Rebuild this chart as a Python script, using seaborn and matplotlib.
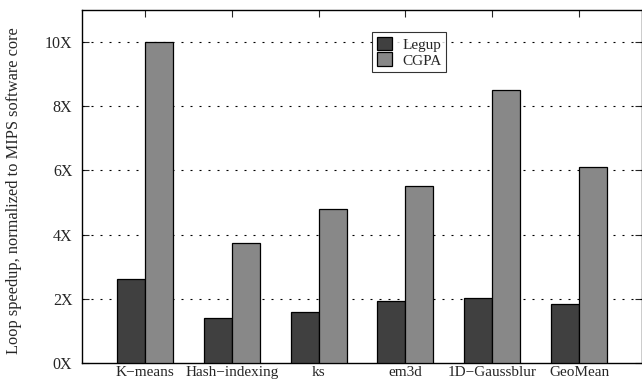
import pandas as pd
import matplotlib
matplotlib.use("Agg")
import matplotlib.pyplot as plt
import seaborn as sns

# Data
benchmarks = ["K\u2212means", "Hash\u2212indexing", "ks", "em3d", "1D\u2212Gaussblur", "GeoMean"]
legup = [2.61, 1.41, 1.59, 1.91, 2.01, 1.84]
cgpa = [10.0, 3.74, 4.79, 5.52, 8.51, 6.10]
y_ticks = [0, 2, 4, 6, 8, 10]
y_labels = ["0X", "2X", "4X", "6X", "8X", "10X"]

sns.set_theme(style="white")
plt.rcParams["font.family"] = ["Liberation Serif", "DejaVu Serif"]

df = pd.DataFrame({
    "bench": benchmarks * 2,
    "speedup": legup + cgpa,
    "series": ["Legup"] * len(benchmarks) + ["CGPA"] * len(benchmarks),
})

fig = plt.figure(figsize=(6.42, 3.84), dpi=100)
ax = fig.add_axes([0.1277, 0.0555, 0.8723, 0.918])

sns.barplot(data=df, x="bench", y="speedup", hue="series",
            palette={"Legup": "#404040", "CGPA": "#888888"},
            width=0.645, edgecolor="black", linewidth=0.9, saturation=1,
            ax=ax, zorder=3)

ax.set_xlim(-0.725, 5.725)
ax.set_ylim(0, 11)
ax.set_yticks(y_ticks)
ax.set_yticklabels(y_labels, fontsize=11.5)
ax.set_xlabel("")
ax.set_ylabel("Loop speedup, normalized to MIPS software core", fontsize=11.75)
ax.yaxis.set_label_coords(-0.108, 0.487)
ax.tick_params(axis="x", bottom=True, top=True, direction="in", length=5, width=0.8,
               labelsize=11, pad=2.5)
ax.tick_params(axis="y", direction="in", length=5, width=0.8, right=True, left=True, pad=7)

for y in y_ticks[1:]:
    ax.axhline(y, color="black", linestyle=(0, (1.8, 6.3)), linewidth=0.8, zorder=1)

for side in ["top", "bottom", "left", "right"]:
    ax.spines[side].set_color("black")
    ax.spines[side].set_linewidth(1.0)

leg = ax.legend(loc="upper left", bbox_to_anchor=(0.518, 0.938), fontsize=11,
                frameon=True, fancybox=False, edgecolor="black",
                handlelength=1.0, handleheight=1.0, handletextpad=0.7,
                borderpad=0.3, labelspacing=0.05, borderaxespad=0)
leg.get_frame().set_linewidth(0.8)

fig.savefig("out.png", dpi=100)
